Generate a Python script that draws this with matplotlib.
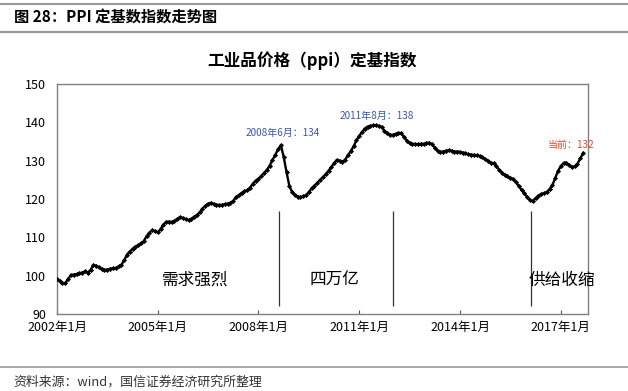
import matplotlib
matplotlib.use("Agg")
import matplotlib.pyplot as plt
import pandas as pd

plt.rcParams['font.family'] = ['Noto Sans CJK SC', 'DejaVu Sans']

# ---------------- data ----------------

start_month = "2002-01"
ppi_index = [
    # 2002
    99.1, 98.6, 98.1, 98.0, 99.2, 100.1, 100.3, 100.4, 100.6, 100.8, 101.1, 100.8,
    # 2003
    101.5, 102.8, 102.6, 102.2, 101.7, 101.5, 101.6, 101.8, 101.9, 102.0, 102.4, 102.8,
    # 2004
    104.0, 105.5, 106.3, 107.0, 107.6, 107.9, 108.4, 109.0, 110.3, 111.2, 111.9, 111.6,
    # 2005
    111.3, 112.2, 113.3, 114.0, 114.1, 114.0, 114.3, 114.8, 115.3, 115.0, 114.7, 114.5,
    # 2006
    114.8, 115.4, 115.8, 116.5, 117.5, 118.2, 118.8, 119.0, 118.7, 118.5, 118.4, 118.5,
    # 2007
    118.6, 118.8, 119.0, 119.5, 120.5, 121.0, 121.6, 122.0, 122.3, 123.0, 124.0, 124.8,
    # 2008
    125.3, 126.0, 126.8, 127.6, 128.7, 130.2, 131.5, 133.0, 134.0, 131.0, 127.0, 123.5,
    # 2009
    121.8, 121.0, 120.6, 120.5, 120.7, 121.0, 121.8, 122.8, 123.5, 124.2, 125.0, 125.7,
    # 2010
    126.5, 127.4, 128.3, 129.3, 130.2, 130.0, 129.7, 130.3, 131.5, 132.5, 133.8, 135.3,
    # 2011
    136.5, 137.5, 138.4, 138.9, 139.1, 139.2, 139.2, 139.1, 138.8, 137.8, 137.2, 136.8,
    # 2012
    136.7, 137.0, 137.3, 137.1, 136.2, 135.2, 134.6, 134.4, 134.3, 134.3, 134.4, 134.4,
    # 2013
    134.6, 134.7, 134.3, 133.4, 132.6, 132.3, 132.4, 132.6, 132.7, 132.6, 132.4, 132.4,
    # 2014
    132.3, 132.1, 131.9, 131.7, 131.6, 131.5, 131.4, 131.2, 130.9, 130.5, 130.0, 129.5,
    # 2015
    129.3, 128.5, 127.7, 126.9, 126.3, 125.9, 125.6, 125.2, 124.5, 123.3, 122.4, 121.5,
    # 2016
    120.5, 119.7, 119.5, 120.2, 120.9, 121.3, 121.5, 121.8, 122.6, 123.6, 125.5, 127.3,
    # 2017
    128.6, 129.4, 129.5, 128.8, 128.3, 128.5, 129.2, 130.6, 132.0,
]

tick_dates = ["2002-01", "2005-01", "2008-01", "2011-01", "2014-01", "2017-01"]
tick_labels = ["2002年1月", "2005年1月", "2008年1月", "2011年1月", "2014年1月", "2017年1月"]
y_ticks = [90, 100, 110, 120, 130, 140, 150]

phase_breaks = ["2008-08-10", "2012-01-01", "2016-02-10"]
phase_names = ["需求强烈", "四万亿", "供给收缩"]
phase_label_dates = ["2006-02-15", "2010-04-01", "2017-01-15"]

callouts = [
    ("2008-09-20", 137.2, "2008年6月：134", "#3a56b0"),
    ("2011-07-15", 141.6, "2011年8月：138", "#3a56b0"),
    ("2017-04-20", 134.0, "当前：132", "#e04a2f"),
]

dates = pd.date_range(start_month, periods=len(ppi_index), freq="MS")

# ---------------- figure ----------------

fig = plt.figure(figsize=(6.28, 3.91), dpi=100)
ax = fig.add_axes([0.0908, 0.197, 0.845, 0.588])

ax.plot(dates, ppi_index, color="black", lw=1.7, marker="D", ms=2.6,
        markeredgewidth=0, zorder=3)

# phase separators and names
for d in phase_breaks:
    ax.vlines(pd.Timestamp(d), 92, 117, color="#333333", lw=0.9)
for d, name in zip(phase_label_dates, phase_names):
    ax.text(pd.Timestamp(d), 98.8, name, ha="center", va="center", fontsize=12)

for d, y, txt, c in callouts:
    ax.text(pd.Timestamp(d), y, txt, ha="center", va="center", fontsize=7.2, color=c)

ax.set_ylim(90, 150)
ax.set_yticks(y_ticks)
ax.set_xlim(pd.Timestamp("2002-01-01"), pd.Timestamp("2017-10-20"))
ax.set_xticks([pd.Timestamp(t) for t in tick_dates])
ax.set_xticklabels(tick_labels)
ax.tick_params(axis="x", direction="in", length=3, color="#555555", labelsize=9, pad=5)
ax.tick_params(axis="y", length=0, labelsize=9, pad=8)
for s in ax.spines.values():
    s.set_color("#808080")
    s.set_linewidth(1.0)

# chart title
fig.text(0.497, 0.845, "工业品价格（ppi）定基指数", ha="center", va="center",
         fontsize=12, fontweight="bold")

# header and footer of the report page
fig.add_artist(plt.Line2D([0.0, 1.0], [0.99, 0.99], color="#9a9a9a", lw=1.5))
fig.add_artist(plt.Line2D([0.0, 1.0], [0.918, 0.918], color="#9a9a9a", lw=1.5))
fig.text(0.022, 0.955, "图 28：PPI 定基数指数走势图", ha="left", va="center",
         fontsize=11, fontweight="bold")
fig.add_artist(plt.Line2D([0.0, 1.0], [0.062, 0.062], color="#9a9a9a", lw=1.2))
fig.text(0.022, 0.022, "资料来源：wind，国信证券经济研究所整理", ha="left", va="center",
         fontsize=9.3, color="#333333")

fig.savefig("out.png", dpi=100)
